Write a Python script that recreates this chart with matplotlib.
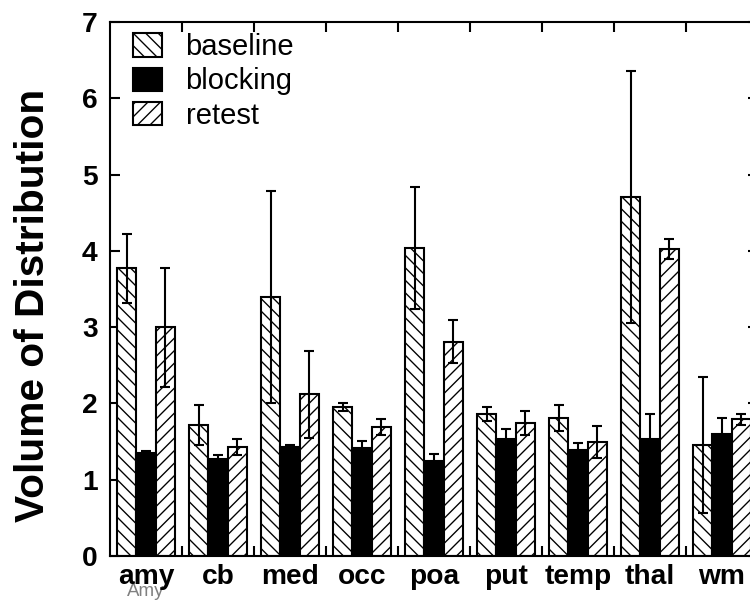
import matplotlib
matplotlib.use("Agg")
import matplotlib.pyplot as plt
import numpy as np

regions = ["amy", "cb", "med", "occ", "poa", "put", "temp", "thal", "wm"]
baseline = [3.77, 1.72, 3.40, 1.95, 4.04, 1.86, 1.81, 4.71, 1.46]
baseline_err = [0.45, 0.26, 1.39, 0.05, 0.80, 0.09, 0.17, 1.65, 0.89]
blocking = [1.35, 1.27, 1.43, 1.42, 1.25, 1.53, 1.39, 1.53, 1.60]
blocking_err = [0.02, 0.06, 0.02, 0.09, 0.09, 0.14, 0.09, 0.33, 0.21]
retest = [3.00, 1.43, 2.12, 1.69, 2.81, 1.74, 1.50, 4.02, 1.79]
retest_err = [0.78, 0.10, 0.57, 0.10, 0.28, 0.16, 0.21, 0.13, 0.07]
yticks = [0, 1, 2, 3, 4, 5, 6, 7]

plt.rcParams['font.family'] = ['Liberation Sans', 'DejaVu Sans']
plt.rcParams['hatch.linewidth'] = 0.65
plt.rcParams['hatch.color'] = 'black'

fig = plt.figure(figsize=(5, 4), dpi=150)
W, H = 750.0, 600.0
ax = fig.add_axes([110 / W, (H - 556) / H, 648 / W, 534 / H])

x = np.arange(len(regions))
bw = 0.27
ekw = dict(fmt='none', ecolor='black', elinewidth=1.0, capsize=2.6, capthick=1.0, zorder=4)

ax.bar(x - bw, baseline, bw, facecolor='white', edgecolor='black', linewidth=1.0,
       hatch='\\\\\\\\', label='baseline', zorder=2)
ax.bar(x, blocking, bw, facecolor='black', edgecolor='black', linewidth=1.0,
       label='blocking', zorder=2)
ax.bar(x + bw, retest, bw, facecolor='white', edgecolor='black', linewidth=1.0,
       hatch='////', label='retest', zorder=2)

ax.errorbar(x - bw, baseline, yerr=baseline_err, **ekw)
ax.errorbar(x, blocking, yerr=blocking_err, **ekw)
ax.errorbar(x + bw, retest, yerr=retest_err, **ekw)

ax.set_xlim(-0.5, len(regions) - 0.5)
ax.set_ylim(0, 7)
ax.set_yticks(yticks)
ax.set_yticklabels([str(t) for t in yticks], fontsize=13.5, fontweight='bold')
ax.set_xticks(x)
ax.set_xticklabels(regions, fontsize=13.5, fontweight='bold')
ax.set_xticks(np.arange(0.5, len(regions) - 0.5, 1.0), minor=True)

ax.tick_params(axis='x', which='major', length=0, pad=4)
ax.tick_params(axis='x', which='minor', direction='in', length=5, width=1.0,
               top=True, bottom=True)
ax.tick_params(axis='y', which='major', direction='in', length=5, width=1.0,
               left=True, right=True, pad=6)
for s in ax.spines.values():
    s.set_linewidth(1.0)

# faint ghost label under "amy" (artifact in original)
ax.text(0, -0.36, "Amy", transform=ax.transData, ha='center', va='top',
        fontsize=9, color='0.5', zorder=0, clip_on=False)

fig.text(33 / W, 1 - 305 / H, "Volume of Distribution", rotation=90,
         ha='center', va='center', fontsize=19.5, fontweight='bold')

leg = ax.legend(loc='upper left', bbox_to_anchor=(23 / 648, 1 - 11 / 534),
                frameon=False, fontsize=14, handlelength=1.0, handleheight=0.86,
                handletextpad=0.8, labelspacing=0.22, borderpad=0, borderaxespad=0)

fig.savefig("out.png", dpi=150)
